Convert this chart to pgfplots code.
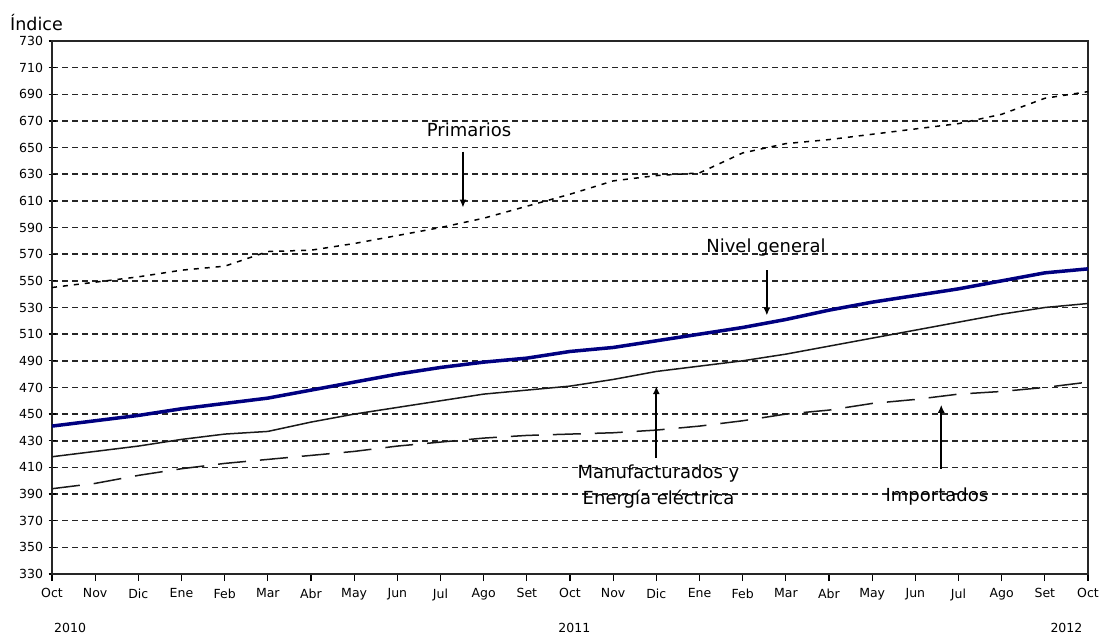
\documentclass[border=0pt]{standalone}
\usepackage{fontspec}
\setmainfont{DejaVu Sans}
\usepackage{pgfplots}
\pgfplotsset{compat=1.18}
\usetikzlibrary{arrows.meta}
\definecolor{navyline}{RGB}{0,0,128}

\begin{document}
\begin{tikzpicture}
\begin{axis}[
    scale only axis,
    width=1036pt, height=533pt,
    xmin=0, xmax=24,
    ymin=330, ymax=730,
    xtick={0,...,24},
    xticklabels={Oct,Nov,Dic,Ene,Feb,Mar,Abr,May,Jun,Jul,Ago,Set,Oct,Nov,Dic,Ene,Feb,Mar,Abr,May,Jun,Jul,Ago,Set,Oct},
    ytick={330,350,...,730},
    xtick pos=left, ytick pos=left,
    xtick align=outside, ytick align=center,
    major tick length=7pt,
    tick style={black, line width=1.3pt},
    axis line style={black!85, line width=1.8pt},
    ymajorgrids=true,
    grid style={black!85, line width=1.5pt, dash pattern=on 6pt off 4pt},
    ticklabel style={font=\fontsize{12.5}{15}\selectfont},
    xticklabel style={yshift=-4pt},
    yticklabel style={xshift=-2pt},
    /pgf/number format/assume math mode=true,
    clip=false,
]

% Primarios
\addplot[black, line width=1.5pt, dash pattern=on 5pt off 6pt] coordinates {
(0,545)(1,549)(2,553)(3,558)(4,561)(5,572)(6,573)(7,578)(8,584)(9,590)(10,597)(11,606)(12,615)(13,625)(14,629)(15,631)(16,646)(17,653)(18,656)(19,660)(20,664)(21,668)(22,675)(23,687)(24,692)
};

% Manufacturados y Energia electrica
\addplot[black!90, line width=1.5pt] coordinates {
(0,418)(1,422)(2,426)(3,431)(4,435)(5,437)(6,444)(7,450)(8,455)(9,460)(10,465)(11,468)(12,471)(13,476)(14,482)(15,486)(16,490)(17,495)(18,501)(19,507)(20,513)(21,519)(22,525)(23,530)(24,533)
};

% Importados
\addplot[black!90, line width=1.5pt, dash pattern=on 28pt off 14pt] coordinates {
(0,394)(1,398)(2,404)(3,409)(4,413)(5,416)(6,419)(7,422)(8,426)(9,429)(10,432)(11,434)(12,435)(13,436)(14,438)(15,441)(16,445)(17,450)(18,453)(19,458)(20,461)(21,465)(22,467)(23,470)(24,474)
};

% Nivel general
\addplot[navyline, line width=3.5pt] coordinates {
(0,441)(1,445)(2,449)(3,454)(4,458)(5,462)(6,468)(7,474)(8,480)(9,485)(10,489)(11,492)(12,497)(13,500)(14,505)(15,510)(16,515)(17,521)(18,528)(19,534)(20,539)(21,544)(22,550)(23,556)(24,559)
};

% annotations
\tikzset{lbl/.style={font=\fontsize{18}{26}\selectfont, inner sep=1pt},
         arr/.style={black, line width=1.7pt, -{Latex[length=8pt,width=7pt]}}}
\node[lbl] at (axis cs:9.66,663) {Primarios};
\draw[arr] (axis cs:9.52,647) -- (axis cs:9.52,605);
\node[lbl] at (axis cs:16.54,575) {Nivel general};
\draw[arr] (axis cs:16.56,558) -- (axis cs:16.56,524);
\node[lbl, align=center] at (axis cs:14.05,396) {Manufacturados y\\Energía eléctrica};
\draw[arr] (axis cs:14.0,417) -- (axis cs:14.0,471);
\node[lbl] at (axis cs:20.5,388) {Importados};
\draw[arr] (axis cs:20.6,409) -- (axis cs:20.6,457);

\node[font=\fontsize{17.5}{20}\selectfont, anchor=base west, inner sep=0pt] at ([xshift=-42pt,yshift=10pt]rel axis cs:0,1) {Índice};
\node[font=\fontsize{12.5}{15}\selectfont] at ([yshift=-54pt]axis cs:0.42,330) {2010};
\node[font=\fontsize{12.5}{15}\selectfont] at ([yshift=-54pt]axis cs:12.1,330) {2011};
\node[font=\fontsize{12.5}{15}\selectfont] at ([yshift=-54pt]axis cs:23.5,330) {2012};
\end{axis}
\pgfresetboundingbox
\path[use as bounding box] ([shift={(-52pt,-61pt)}]current axis.south west) rectangle ([shift={(11pt,41pt)}]current axis.north east);
\end{tikzpicture}
\end{document}
